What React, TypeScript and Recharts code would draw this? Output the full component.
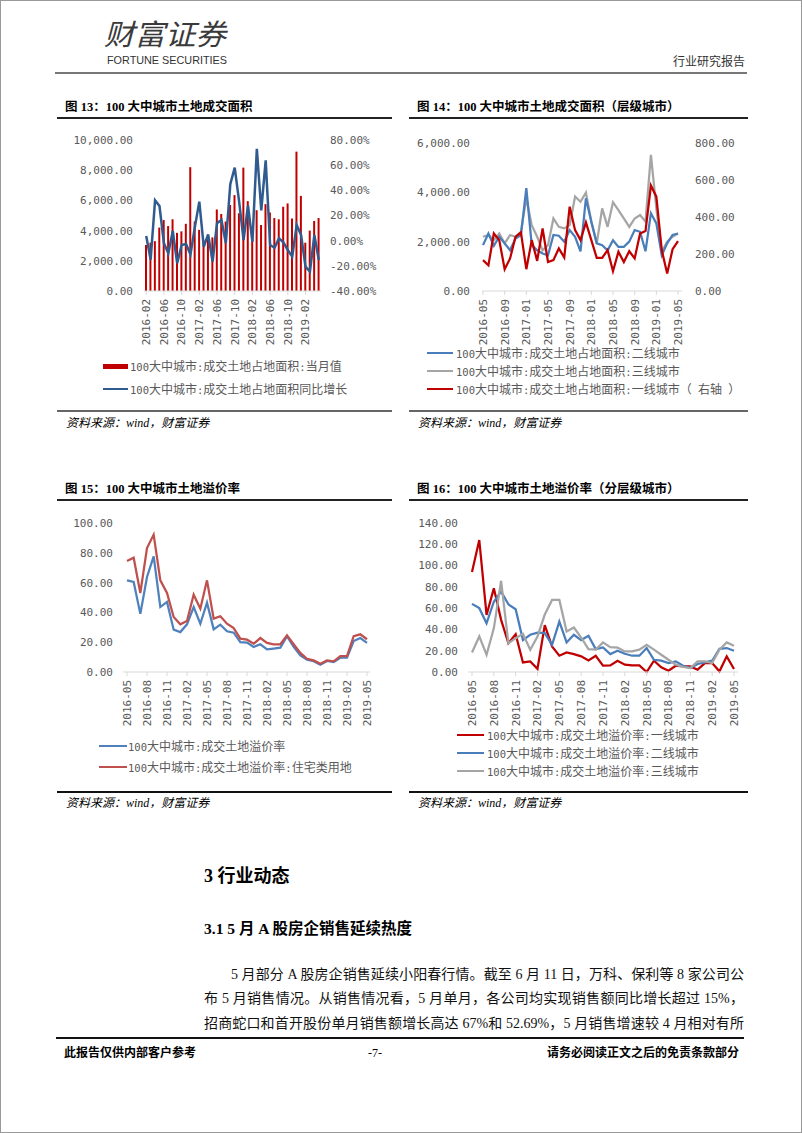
import React from 'react';
import { ComposedChart, LineChart, Bar, Line, XAxis, YAxis } from 'recharts';

// ---------- categories ----------
const months13 = [
  '2016-02','2016-03','2016-04','2016-05','2016-06','2016-07','2016-08','2016-09','2016-10','2016-11','2016-12',
  '2017-01','2017-02','2017-03','2017-04','2017-05','2017-06','2017-07','2017-08','2017-09','2017-10','2017-11','2017-12',
  '2018-01','2018-02','2018-03','2018-04','2018-05','2018-06','2018-07','2018-08','2018-09','2018-10','2018-11','2018-12',
  '2019-01','2019-02','2019-03','2019-04','2019-05',
];
const months37 = [
  '2016-05','2016-06','2016-07','2016-08','2016-09','2016-10','2016-11','2016-12',
  '2017-01','2017-02','2017-03','2017-04','2017-05','2017-06','2017-07','2017-08','2017-09','2017-10','2017-11','2017-12',
  '2018-01','2018-02','2018-03','2018-04','2018-05','2018-06','2018-07','2018-08','2018-09','2018-10','2018-11','2018-12',
  '2019-01','2019-02','2019-03','2019-04','2019-05',
];

// ---------- Fig 13 ----------
const area13 = [3050, 3200, 3300, 4200, 4700, 4300, 4750, 3850, 3950, 4450, 8200, 4600, 4050, 3200, 3500, 3550, 5400, 5100, 4600, 5700, 6350, 5150, 8170, 5950, 4250, 5350, 4370, 5750, 5200, 4830, 4750, 5580, 5800, 4800, 9230, 6300, 3200, 4000, 4640, 4830];
const yoy13 = [3.7, -15, 32, 27.5, -2, -10, 7.7, -18, -3.4, -2.6, -11, 11, 31, -4.8, 5, -16.7, 13.8, 16.4, -2, 44.8, 58, 31, 0.5, 28, -1, 73, 24, 63.8, -3.4, -5.6, 1.8, -1.3, -7.4, -12.7, 12.5, 4.5, -20.6, -24.6, 4.5, -15.4];
const ticks13L = [0, 2000, 4000, 6000, 8000, 10000];
const ticks13R = [-40, -20, 0, 20, 40, 60, 80];

// ---------- Fig 14 ----------
const tier2Area = [1860, 2330, 1830, 2200, 1930, 1650, 2130, 2270, 4170, 1860, 1650, 1520, 1450, 2270, 2240, 2000, 2470, 2200, 1610, 3760, 2810, 1930, 1860, 1650, 2060, 1790, 1790, 2000, 2470, 2400, 1610, 3150, 2740, 1450, 1930, 2270, 2330];
const tier3Area = [2200, 2270, 2060, 2330, 1930, 2270, 2200, 2400, 3760, 2670, 2200, 1650, 1860, 2940, 2600, 2540, 2670, 3830, 3620, 3990, 2810, 1930, 3350, 2600, 3600, 3280, 2940, 2600, 2940, 3080, 2810, 5520, 3350, 1590, 2000, 2200, 2330];
const tier1Area = [167, 139, 311, 275, 118, 176, 293, 317, 118, 275, 163, 338, 157, 167, 230, 181, 456, 329, 275, 371, 275, 179, 179, 221, 107, 212, 157, 215, 176, 311, 324, 570, 510, 221, 94, 226, 270];
const ticks14L = [0, 2000, 4000, 6000];
const ticks14R = [0, 200, 400, 600, 800];

// ---------- Fig 15 ----------
const premiumAll = [61.5, 60.4, 39, 63.8, 77.6, 43.6, 47, 28.4, 26.8, 32, 43.6, 32.4, 46.5, 28.6, 31.8, 27.3, 26.4, 20.1, 19.7, 16.8, 18.6, 15.2, 15.7, 16.3, 24, 16.8, 11.2, 8.3, 7.2, 4.9, 7.4, 6.7, 9.6, 9.6, 20.8, 22.8, 19.5];
const premiumResi = [74.5, 76.7, 53, 83.2, 92.2, 61.5, 53, 36.9, 32, 34.2, 51.9, 42.5, 61.5, 35.8, 37.4, 32.4, 29.5, 22.4, 21.7, 19, 22.8, 19.5, 18.6, 18.6, 24.6, 18.6, 12.8, 8.9, 7.8, 5.6, 7.8, 7.2, 10.7, 10.7, 24, 25.3, 22];
const ticks15 = [0, 20, 40, 60, 80, 100];

// ---------- Fig 16 ----------
const premiumT1 = [94, 124, 53.6, 78.6, 49, 27, 35.5, 9, 10, 3, 44, 24, 15.3, 18.4, 16.8, 14.7, 10.9, 15.3, 5.9, 6.2, 10.6, 6.9, 6.2, 6.2, 0, 10.6, 4.4, 1.2, 5.9, 5.3, 5.3, 2.2, 8.4, 8.4, 0.6, 14.7, 2.8];
const premiumT2 = [64, 60, 45.8, 66, 75.5, 63.6, 59, 30, 35, 37, 36.5, 25.6, 47.4, 27.8, 35, 30, 34, 21.5, 23, 16.8, 20, 17.1, 15.3, 15.3, 22.5, 11.5, 10.6, 8.4, 10, 5.9, 3.7, 7.5, 9, 10.6, 21.8, 22.5, 20];
const premiumT3 = [18.4, 33.4, 16.2, 41, 85.7, 27, 31.8, 35.8, 20.9, 33.4, 54, 67.7, 67.7, 38, 41.8, 32.4, 21.5, 21, 27.8, 23.4, 23, 19.3, 19.3, 21, 25.6, 21, 16.2, 11.5, 6.9, 4.7, 3.7, 10, 10, 8.4, 21, 27.8, 24.6];
const ticks16 = [0, 20, 40, 60, 80, 100, 120, 140];

// ---------- text ----------
const legend13 = ['100大中城市:成交土地占地面积:当月值', '100大中城市:成交土地占地面积同比增长'];
const legend14 = ['100大中城市:成交土地占地面积:二线城市', '100大中城市:成交土地占地面积:三线城市', '100大中城市:成交土地占地面积:一线城市（ 右轴 ）'];
const legend15 = ['100大中城市:成交土地溢价率', '100大中城市:成交土地溢价率:住宅类用地'];
const legend16 = ['100大中城市:成交土地溢价率:一线城市', '100大中城市:成交土地溢价率:二线城市', '100大中城市:成交土地溢价率:三线城市'];
const para = [
  '5 月部分 A 股房企销售延续小阳春行情。截至 6 月 11 日，万科、保利等 8 家公司公',
  '布 5 月销售情况。从销售情况看，5 月单月，各公司均实现销售额同比增长超过 15%，',
  '招商蛇口和首开股份单月销售额增长高达 67%和 52.69%，5 月销售增速较 4 月相对有所',
];

// ---------- styles ----------
const MONO = "'DejaVu Sans Mono', monospace";
const CJK = "'Noto Sans CJK SC', sans-serif";
const SERIF = "'Liberation Serif', 'Noto Sans CJK SC', serif";
const AX = '#595959';
const AXLINE = '#d9d9d9';

const data13 = months13.map((m, i) => ({ m, area: area13[i], yoy: yoy13[i] }));
const data14 = months37.map((m, i) => ({ m, t1: tier1Area[i], t2: tier2Area[i], t3: tier3Area[i] }));
const data15 = months37.map((m, i) => ({ m, all: premiumAll[i], resi: premiumResi[i] }));
const data16 = months37.map((m, i) => ({ m, t1: premiumT1[i], t2: premiumT2[i], t3: premiumT3[i] }));

const fmtNum = (v: number) => v.toLocaleString('en-US', { minimumFractionDigits: 2, maximumFractionDigits: 2 });
const fmtPct = (v: number) => `${v.toFixed(2)}%`;
const fmt2 = (v: number) => v.toFixed(2);

const yTick = { fontSize: 11, fill: AX, fontFamily: MONO };

const RotTick = (props: any) => {
  const { x, y, payload } = props;
  return (
    <g transform={`translate(${x},${y})`}>
      <text x={0} y={0} dy="0.35em" textAnchor="end" transform="rotate(-90)" fontSize={11} fill={AX} fontFamily={MONO}>
        {payload.value}
      </text>
    </g>
  );
};

const Mixed = ({ text }: { text: string }) => {
  const parts = text.split(/([\x00-\x7f]+)/).filter((s) => s.length > 0);
  return (
    <>
      {parts.map((p, i) =>
        /^[\x00-\x7f]+$/.test(p) ? (
          <span key={i} style={{ fontFamily: MONO, fontSize: 10.5 }}>{p}</span>
        ) : (
          <span key={i} style={{ fontFamily: CJK, fontSize: 12 }}>{p}</span>
        )
      )}
    </>
  );
};

const LegendRow = ({ x, y, w, h, color, textX, label }: any) => (
  <>
    <div style={{ position: 'absolute', left: x, top: y - h / 2, width: w, height: h, background: color }} />
    <div style={{ position: 'absolute', left: textX, top: y - 9, height: 18, lineHeight: '18px', color: AX, whiteSpace: 'nowrap' }}>
      <Mixed text={label} />
    </div>
  </>
);

const Txt = ({ x, y, size, children, style, right }: any) => (
  <div
    style={{
      position: 'absolute',
      ...(right !== undefined ? { right } : { left: x }),
      top: y - size * 0.7,
      fontSize: size,
      lineHeight: `${size * 1.4}px`,
      whiteSpace: 'nowrap',
      ...style,
    }}
  >
    {children}
  </div>
);

const Rule = ({ x1, x2, y, h, color }: any) => (
  <div style={{ position: 'absolute', left: x1, top: y - h / 2, width: x2 - x1, height: h, background: color }} />
);

const Title = ({ x, y, children }: any) => (
  <Txt x={x} y={y} size={12.5} style={{ fontFamily: SERIF, fontWeight: 700, color: '#000' }}>{children}</Txt>
);

const Source = ({ x, y }: any) => (
  <Txt x={x} y={y} size={12} style={{ fontFamily: SERIF, fontStyle: 'italic', color: '#000' }}>资料来源：wind，财富证券</Txt>
);

export default function App() {
  return (
    <div style={{ position: 'absolute', left: 0, top: 0, width: 802, height: 1133, background: '#fff', overflow: 'hidden' }}>
      {/* header */}
      <svg style={{ position: 'absolute', left: 0, top: 0 }} width={802} height={80}>
        <text x={104} y={45} fontSize={29} fontFamily={CJK} fill="#3a3a3a" textLength={122} lengthAdjust="spacingAndGlyphs" fontStyle="italic">财富证券</text>
        <text x={107} y={64} fontSize={11.5} fontFamily="'Liberation Sans Narrow', 'Liberation Sans', sans-serif" fill="#333" textLength={120} lengthAdjust="spacingAndGlyphs">FORTUNE SECURITIES</text>
      </svg>
      <Txt right={802 - 745} y={61} size={12} style={{ fontFamily: CJK, color: '#333' }}>行业研究报告</Txt>
      <Rule x1={55} x2={747} y={73} h={2} color="#777" />

      {/* titles */}
      <Title x={65} y={108}>图 13：100 大中城市土地成交面积</Title>
      <Title x={417} y={108}>图 14：100 大中城市土地成交面积（层级城市）</Title>
      <Rule x1={57} x2={392} y={118} h={2} color="#222" />
      <Rule x1={409} x2={748} y={118} h={2} color="#222" />

      {/* Fig 13 */}
      <div style={{ position: 'absolute', left: 57, top: 125 }}>
        <ComposedChart width={336} height={235} data={data13} margin={{ top: 15, right: 0, left: 0, bottom: 0 }}>
          <XAxis dataKey="m" interval={3} height={69} tick={(p: any) => <RotTick {...p} />} tickSize={4} tickMargin={4} axisLine={{ stroke: AXLINE }} tickLine={{ stroke: AXLINE }} />
          <YAxis yAxisId="left" width={87} domain={[0, 10000]} ticks={ticks13L} tickFormatter={fmtNum} axisLine={false} tickLine={false} tickSize={0} tickMargin={11} tick={yTick} />
          <YAxis yAxisId="right" orientation="right" width={72} domain={[-40, 80]} ticks={ticks13R} tickFormatter={fmtPct} axisLine={false} tickLine={false} tickSize={0} tickMargin={9} tick={yTick} />
          <Bar yAxisId="left" dataKey="area" fill="#c00000" barSize={2} isAnimationActive={false} />
          <Line yAxisId="right" dataKey="yoy" type="linear" stroke="#2f5b8f" strokeWidth={2.5} dot={false} isAnimationActive={false} />
        </ComposedChart>
      </div>
      <LegendRow x={103} y={366} w={25} h={5} color="#c00000" textX={130} label={legend13[0]} />
      <LegendRow x={103} y={389} w={25} h={2} color="#2f5b8f" textX={130} label={legend13[1]} />

      {/* Fig 14 */}
      <div style={{ position: 'absolute', left: 409, top: 125 }}>
        <LineChart width={339} height={235} data={data14} margin={{ top: 18, right: 0, left: 0, bottom: 0 }}>
          <XAxis dataKey="m" interval={3} height={69} padding={{ left: 1, right: 4 }} tick={(p: any) => <RotTick {...p} />} tickSize={4} tickMargin={4} axisLine={{ stroke: AXLINE }} tickLine={{ stroke: AXLINE }} />
          <YAxis yAxisId="left" width={73} domain={[0, 6000]} ticks={ticks14L} tickFormatter={fmtNum} axisLine={false} tickLine={false} tickSize={0} tickMargin={12} tick={yTick} />
          <YAxis yAxisId="right" orientation="right" width={66} domain={[0, 800]} ticks={ticks14R} tickFormatter={fmt2} axisLine={false} tickLine={false} tickSize={0} tickMargin={13} tick={yTick} />
          <Line yAxisId="left" dataKey="t3" type="linear" stroke="#a5a5a5" strokeWidth={2.25} dot={false} isAnimationActive={false} />
          <Line yAxisId="left" dataKey="t2" type="linear" stroke="#4a7ebb" strokeWidth={2.25} dot={false} isAnimationActive={false} />
          <Line yAxisId="right" dataKey="t1" type="linear" stroke="#c00000" strokeWidth={2.25} dot={false} isAnimationActive={false} />
        </LineChart>
      </div>
      <LegendRow x={427} y={353} w={26} h={2} color="#4a7ebb" textX={456} label={legend14[0]} />
      <LegendRow x={427} y={371} w={26} h={1.5} color="#a5a5a5" textX={456} label={legend14[1]} />
      <LegendRow x={427} y={389} w={26} h={2.5} color="#c00000" textX={456} label={legend14[2]} />

      <Rule x1={57} x2={392} y={411} h={2} color="#666" />
      <Rule x1={409} x2={748} y={411} h={2} color="#666" />
      <Source x={66} y={423} />
      <Source x={418} y={423} />

      {/* titles 15 / 16 */}
      <Title x={65} y={490}>图 15：100 大中城市土地溢价率</Title>
      <Title x={417} y={490}>图 16：100 大中城市土地溢价率（分层级城市）</Title>
      <Rule x1={57} x2={392} y={500} h={2} color="#222" />
      <Rule x1={409} x2={748} y={500} h={2} color="#222" />

      {/* Fig 15 */}
      <div style={{ position: 'absolute', left: 57, top: 505 }}>
        <LineChart width={336} height={227} data={data15} margin={{ top: 18, right: 23, left: 0, bottom: 0 }}>
          <XAxis dataKey="m" interval={2} height={60} padding={{ left: 4, right: 3 }} tick={(p: any) => <RotTick {...p} />} tickSize={4} tickMargin={4} axisLine={{ stroke: AXLINE }} tickLine={{ stroke: AXLINE }} />
          <YAxis width={66} domain={[0, 100]} ticks={ticks15} tickFormatter={fmt2} axisLine={false} tickLine={false} tickSize={0} tickMargin={10} tick={yTick} />
          <Line dataKey="all" type="linear" stroke="#4f81bd" strokeWidth={2.25} dot={false} isAnimationActive={false} />
          <Line dataKey="resi" type="linear" stroke="#c0504d" strokeWidth={2.25} dot={false} isAnimationActive={false} />
        </LineChart>
      </div>
      <LegendRow x={99} y={746} w={28} h={2.5} color="#4f81bd" textX={128} label={legend15[0]} />
      <LegendRow x={99} y={767} w={28} h={2.5} color="#c0504d" textX={128} label={legend15[1]} />

      {/* Fig 16 */}
      <div style={{ position: 'absolute', left: 409, top: 505 }}>
        <LineChart width={339} height={227} data={data16} margin={{ top: 18, right: 10, left: 0, bottom: 0 }}>
          <XAxis dataKey="m" interval={2} height={60} padding={{ left: 4, right: 4 }} tick={(p: any) => <RotTick {...p} />} tickSize={4} tickMargin={4} axisLine={{ stroke: AXLINE }} tickLine={{ stroke: AXLINE }} />
          <YAxis width={59} domain={[0, 140]} ticks={ticks16} tickFormatter={fmt2} axisLine={false} tickLine={false} tickSize={0} tickMargin={10} tick={yTick} />
          <Line dataKey="t1" type="linear" stroke="#c00000" strokeWidth={2.25} dot={false} isAnimationActive={false} />
          <Line dataKey="t2" type="linear" stroke="#4a7ebb" strokeWidth={2.25} dot={false} isAnimationActive={false} />
          <Line dataKey="t3" type="linear" stroke="#a5a5a5" strokeWidth={2.25} dot={false} isAnimationActive={false} />
        </LineChart>
      </div>
      <LegendRow x={457} y={735} w={27} h={2.5} color="#c00000" textX={487} label={legend16[0]} />
      <LegendRow x={457} y={753} w={27} h={2.5} color="#4a7ebb" textX={487} label={legend16[1]} />
      <LegendRow x={457} y={771} w={27} h={2.5} color="#a5a5a5" textX={487} label={legend16[2]} />

      <Rule x1={57} x2={392} y={792} h={2} color="#111" />
      <Rule x1={409} x2={748} y={792} h={2} color="#111" />
      <Source x={66} y={803} />
      <Source x={418} y={803} />

      {/* body text */}
      <Txt x={204} y={877} size={18} style={{ fontFamily: SERIF, fontWeight: 700, color: '#000' }}>3 行业动态</Txt>
      <Txt x={204} y={929} size={15.5} style={{ fontFamily: SERIF, fontWeight: 700, color: '#000' }}>3.1 5 月 A 股房企销售延续热度</Txt>
      {para.map((line, i) => (
        <div
          key={i}
          style={{
            position: 'absolute',
            left: i === 0 ? 231 : 204,
            width: i === 0 ? 513 : 540,
            top: 975 + i * 24.3 - 10,
            height: 20,
            lineHeight: '20px',
            fontSize: 14,
            fontFamily: SERIF,
            color: '#111',
            textAlign: 'justify',
            textAlignLast: 'justify',
            whiteSpace: 'nowrap',
          }}
        >
          {line}
        </div>
      ))}

      {/* footer */}
      <Rule x1={56} x2={744} y={1038} h={2} color="#111" />
      <Txt x={64} y={1053} size={12} style={{ fontFamily: SERIF, fontWeight: 700, color: '#000' }}>此报告仅供内部客户参考</Txt>
      <Txt x={368} y={1053} size={12} style={{ fontFamily: SERIF, color: '#000' }}>-7-</Txt>
      <Txt right={802 - 739} y={1053} size={12} style={{ fontFamily: SERIF, fontWeight: 700, color: '#000' }}>请务必阅读正文之后的免责条款部分</Txt>

      {/* page border */}
      <div style={{ position: 'absolute', left: 0, top: 0, width: 802, height: 1133, boxSizing: 'border-box', border: '1px solid #999', pointerEvents: 'none' }} />
    </div>
  );
}
